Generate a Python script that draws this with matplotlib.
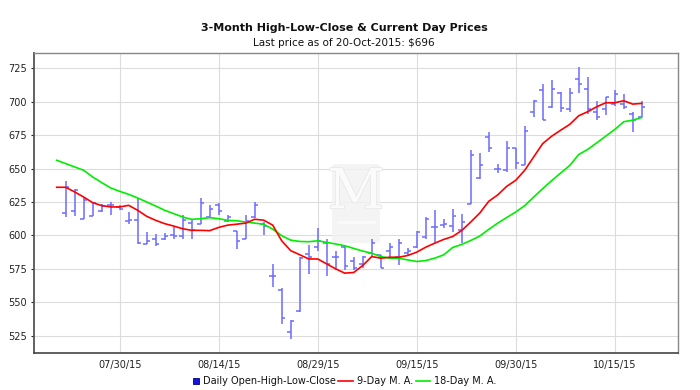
import matplotlib
matplotlib.use('Agg')
import matplotlib.pyplot as plt
from matplotlib.patches import Rectangle, FancyBboxPatch
from matplotlib.lines import Line2D
import matplotlib.patheffects as pe

# ---------------- data ----------------
tick_labels = ['07/30/15', '08/14/15', '08/29/15', '09/15/15', '09/30/15', '10/15/15']
tick_bars = [7, 18, 29, 40, 51, 62]
y_ticks = [525, 550, 575, 600, 625, 650, 675, 700, 725]

opens = [617, 618, 612.5, 614.8, 618.3, 623, 621, 611, 611.8, 593.8,
         597.6, 597.6, 600, 599.3, 609.3, 608.8, 614, 623, 611, 603,
         597.5, 613.5, 608.7, 569.3, 559, 528, 543.5, 586, 591, 594,
         584, 591, 581, 579, 587, 585, 588, 584, 586.5, 591,
         599, 606, 608, 606.7, 604, 623.7, 643, 673.7, 650, 649,
         665, 652.5, 692.5, 709, 695.7, 706.2, 694.3, 717, 709.5, 692,
         694.6, 698.3, 698.3, 691, 688.5]
highs = [640.5, 634.5, 628.7, 624.5, 623.3, 625, 623, 617.5, 628.2, 602.6,
         601.3, 601.8, 606.8, 615.5, 612, 628.2, 623, 624, 615, 603.6,
         615, 625, 610, 578.7, 561, 537, 584, 593, 605.5, 597,
         588.5, 592, 583.7, 584.5, 597, 585.5, 594.5, 597.5, 590.7, 603.5,
         614, 619, 612.5, 620, 616, 664.2, 662, 677.5, 653.7, 670.5,
         665, 682, 701.2, 713.2, 716.2, 707, 710, 725.7, 718.5, 700.7,
         703.7, 708.8, 705.6, 692.6, 700.7]
lows = [614, 614.5, 612, 614.3, 617.5, 615, 619.3, 608.8, 593.8, 593.3,
        591.8, 596.3, 597.6, 597.6, 597.3, 608.3, 614, 615, 609.7, 590,
        597, 613, 600, 561.3, 534, 522.5, 543, 571, 588.2, 570,
        574, 573.8, 574, 576, 584, 575.5, 584, 578, 584.5, 590.5,
        597, 594.3, 605.7, 602.5, 594.3, 623.7, 642.5, 662.5, 647, 647.5,
        649.5, 652.5, 688.7, 686.2, 695.5, 692, 692.5, 706.2, 691, 686.5,
        690.2, 697, 694.6, 677.5, 688.5]
closes = [636, 633.7, 626.2, 624, 622.3, 623, 619.5, 611.5, 594, 595.8,
          593.8, 599.3, 599.5, 611.8, 603.8, 624, 619.5, 618, 613.5, 596,
          611, 622.5, 606.8, 569.3, 538.5, 536, 583.5, 584, 596, 579,
          584, 577, 576, 584, 594, 576, 591, 594.5, 588.7, 602.5,
          612, 606, 608.5, 614.2, 610, 660.5, 652.5, 665.5, 649.5, 665,
          654, 678, 700.8, 686.5, 709.2, 695, 706.7, 713, 694.6, 688.5,
          703.2, 705.6, 695.8, 686, 696]

# moving averages, one value per position 0..65 (position 0 = day before first bar)
ma9 = [636, 636, 632.5, 628.7, 624.5, 622.3, 621.3, 621.3, 622.5, 618.8,
       614.3, 611.3, 608.8, 607, 605, 603.8, 603.8, 603.6, 606, 607.7,
       608.4, 609.2, 612.1, 611.4, 607.7, 596, 588.6, 585.6, 582.4, 582.4,
       578.7, 575, 571.8, 572.3, 577.5, 584.2, 583, 583.7, 583.7, 585,
       587.5, 591.2, 594.2, 597, 599.2, 603.7, 610, 616.7, 625.5, 630.3,
       636.7, 641.2, 648.7, 658.7, 668.7, 674.2, 678.7, 683, 689.5, 692.5,
       696.2, 699.2, 699.2, 700.7, 698.2, 698.7]
ma18 = [656.2, 653.7, 651.2, 648.7, 643.7, 639.5, 635.5, 633, 630.7, 628,
        625, 622, 618.8, 616.3, 613.8, 612, 612.5, 613.3, 612.5, 611.3,
        611, 610, 609.2, 608.4, 604.7, 599.8, 596.5, 595.5, 595.3, 596,
        594.8, 593.6, 592.3, 590.3, 588.3, 586.7, 584.2, 583, 583, 581.7,
        580.5, 581.2, 583, 585.5, 591, 593.3, 596.2, 599.5, 604.5, 609.2,
        613.4, 617.5, 622.3, 628.7, 635, 641, 646.7, 652.3, 660.5, 664.3,
        669.2, 674.2, 679.2, 685, 686.2, 688.2]

title = '3-Month High-Low-Close & Current Day Prices'
subtitle = 'Last price as of 20-Oct-2015: $696'
legend_labels = ['Daily Open-High-Low-Close', '9-Day M. A.', '18-Day M. A.']

# ---------------- figure ----------------
plt.rcParams['font.family'] = ['DejaVu Sans']
W, H = 700, 390
fig = plt.figure(figsize=(W / 100, H / 100), dpi=100)
L, R, T, B = 34, 678, 53, 353
ax = fig.add_axes([L / W, 1 - B / H, (R - L) / W, (B - T) / H])

bar_x = list(range(1, len(closes) + 1))
ma_x = list(range(0, len(ma9)))

bar_color = '#6b6bff'
tick_w = 0.36
ax.vlines(bar_x, lows, highs, color=bar_color, lw=1.1, zorder=3)
ax.hlines(opens, [x - tick_w for x in bar_x], bar_x, color=bar_color, lw=1.1, zorder=3)
ax.hlines(closes, bar_x, [x + tick_w for x in bar_x], color=bar_color, lw=1.1, zorder=3)

ax.plot(ma_x, ma18, color='#00ee00', lw=1.2, zorder=4)
ax.plot(ma_x, ma9, color='#ff0000', lw=1.2, zorder=5)

ax.set_xlim(-2.52, 69.03)
ax.set_ylim(512.1, 736.4)
ax.set_xticks(tick_bars)
ax.set_xticklabels(tick_labels)
ax.set_yticks(y_ticks)
ax.set_yticklabels([str(v) for v in y_ticks])
ax.tick_params(axis='x', length=0, pad=5, labelsize=7, colors='#222222')
ax.tick_params(axis='y', length=2.5, width=0.8, pad=2.5, labelsize=7,
               colors='#222222')
ax.grid(True, color='#dcdcdc', lw=0.8, zorder=0)
ax.set_axisbelow(True)

for s in ['top', 'right']:
    ax.spines[s].set_color('#888888')
    ax.spines[s].set_linewidth(1.0)
ax.spines['left'].set_color('#555555')
ax.spines['left'].set_linewidth(1.3)
ax.spines['bottom'].set_color('#444444')
ax.spines['bottom'].set_linewidth(1.2)

# faint watermark
wm = FancyBboxPatch((332 / W, 1 - 243 / H), 48 / W, 79 / H,
                    boxstyle='round,pad=0,rounding_size=0.006',
                    transform=fig.transFigure, fc='#f2f2f2', ec='none',
                    alpha=0.8, zorder=1)
ax.add_artist(wm)
wm.set_clip_on(False)
t = fig.text(356 / W, 1 - 193 / H, 'M', family='DejaVu Serif', fontsize=40,
             color='#fbfbfb', ha='center', va='center', zorder=1)
t.set_path_effects([pe.withStroke(linewidth=1.0, foreground='#e6e6e6')])
fig.add_artist(Line2D([338 / W, 374 / W], [1 - 222 / H, 1 - 222 / H],
                      transform=fig.transFigure, color='#fafafa', lw=2,
                      zorder=1))

# titles
fig.text(344 / W, 1 - 28 / H, title, ha='center', va='center',
         fontsize=8, fontweight='bold', color='#111111')
fig.text(344 / W, 1 - 43 / H, subtitle, ha='center', va='center',
         fontsize=7.5, color='#111111')

# legend
ly = 1 - 380.7 / H
fig.add_artist(Rectangle((192.7 / W, 1 - 383.5 / H), 6 / W, 6 / H,
                         transform=fig.transFigure, fc='#1414d8', ec='#000088',
                         lw=0.6))
fig.text(202.7 / W, ly, legend_labels[0], ha='left', va='center', fontsize=7,
         color='#111111')
fig.add_artist(Line2D([338 / W, 352.7 / W], [ly, ly], transform=fig.transFigure,
                      color='#ff0000', lw=1.2))
fig.text(356.7 / W, ly, legend_labels[1], ha='left', va='center', fontsize=7,
         color='#111111')
fig.add_artist(Line2D([415.7 / W, 430 / W], [ly, ly], transform=fig.transFigure,
                      color='#00ee00', lw=1.2))
fig.text(434 / W, ly, legend_labels[2], ha='left', va='center', fontsize=7,
         color='#111111')

fig.savefig('out.png', dpi=100)
